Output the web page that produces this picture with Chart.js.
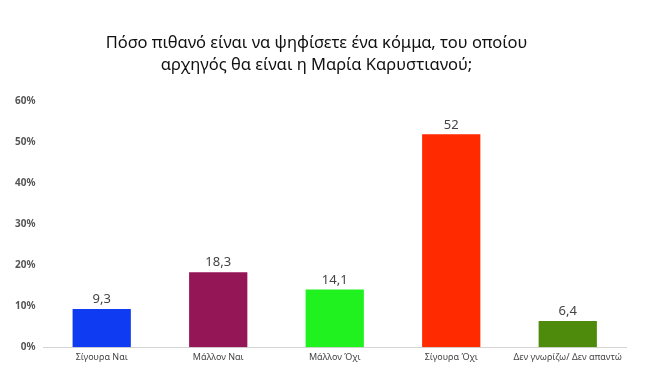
<!DOCTYPE html>
<html>
<head>
<meta charset="utf-8">
<script src="https://cdn.jsdelivr.net/npm/chart.js@4.4.1/dist/chart.umd.min.js"></script>
<style>
  html, body { margin: 0; padding: 0; background: #fff; }
  #wrap { width: 650px; height: 377px; }
</style>
</head>
<body>
<div id="wrap"><canvas id="bar-chartcanvas"></canvas></div>
<script>
// Bar chart - Karystianou party vote likelihood

var categories = ["Σίγουρα Ναι", "Μάλλον Ναι", "Μάλλον Όχι", "Σίγουρα Όχι", "Δεν γνωρίζω/ Δεν απαντώ"];
var values = [9.3, 18.3, 14.1, 52, 6.4];
var barColors = ["#0f3cf2", "#941656", "#1ff21f", "#ff2a00", "#4e8a0c"];
var titleLines = ["Πόσο πιθανό είναι να ψηφίσετε ένα κόμμα, του οποίου", "αρχηγός θα είναι η Μαρία Καρυστιανού;"];

// draw the value above each bar, greek decimal comma
var valueLabels = {
	id: "valueLabels",
	afterDatasetsDraw: function(chart) {
		var ctx = chart.ctx;
		var meta = chart.getDatasetMeta(0);
		ctx.save();
		ctx.font = "13px 'Noto Sans'";
		ctx.fillStyle = "#444";
		ctx.textAlign = "center";
		ctx.textBaseline = "bottom";
		meta.data.forEach(function(bar, i) {
			ctx.fillText(String(values[i]).replace(".", ","), bar.x, bar.y - 3);
		});
		ctx.restore();
	}
};

var ctx = document.getElementById("bar-chartcanvas");

var chart = new Chart(ctx, {
	type: "bar",
	data: {
		labels: categories,
		datasets: [{
			data: values,
			backgroundColor: barColors,
			borderWidth: 0,
			barPercentage: 0.5,
			categoryPercentage: 1
		}]
	},
	options: {
		responsive: true,
		maintainAspectRatio: false,
		animation: false,
		layout: {
			padding: { top: 32, left: 7, right: 24, bottom: 9 }
		},
		plugins: {
			legend: { display: false },
			tooltip: { enabled: false },
			title: {
				display: true,
				text: titleLines,
				color: "#111",
				font: { family: "'Noto Sans'", size: 16.5, weight: "normal", lineHeight: 1.35 },
				padding: { top: 0, bottom: 25 }
			}
		},
		scales: {
			y: {
				min: 0,
				max: 60,
				ticks: {
					stepSize: 10,
					padding: 8,
					color: "#555",
					font: { family: "'Noto Sans'", size: 10, weight: "bold" },
					callback: function(v) { return v + "%"; }
				},
				grid: { display: false, drawTicks: false },
				border: { display: false }
			},
			x: {
				ticks: {
					color: "#444",
					padding: 5,
					font: { family: "'Noto Sans'", size: 9 },
					maxRotation: 0,
					autoSkip: false
				},
				grid: { display: false, drawTicks: false },
				border: { display: true, color: "#d4d4d4", width: 1 }
			}
		}
	},
	plugins: [valueLabels]
});
</script>
</body>
</html>
